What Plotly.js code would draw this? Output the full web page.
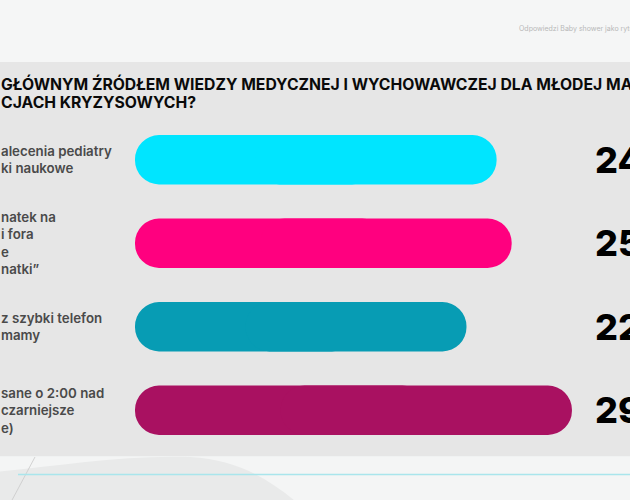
<!DOCTYPE html>
<html>
<head>
<meta charset="utf-8">
<script src="https://cdn.plot.ly/plotly-3.0.1.min.js"></script>
<style>html,body{margin:0;padding:0;background:#f5f6f6;}#chart{width:630px;height:500px;}</style>
</head>
<body>
<div id="chart"></div>
<script>
// ---- data ----
const categories = [
  "alecenia pediatry<br>ki naukowe",
  "natek na<br>i fora<br>e<br>natki\u201d",
  "z szybki telefon<br>mamy",
  "sane o 2:00 nad<br>czarniejsze<br>e)"
];
const values = [24, 25, 22, 29];
const valueLabels = ["24%", "25%", "22%", "29%"];
const barColors = ["#00e5ff", "#ff007f", "#079cb4", "#a91161"];
const titleLines = [
  "GŁÓWNYM ŹRÓDŁEM WIEDZY MEDYCZNEJ I WYCHOWAWCZEJ DLA MŁODEJ MATKI W",
  "CJACH KRYZYSOWYCH?"
];
const headerText = "Odpowiedzi Baby shower jako rytuał przejścia";

// ---- layout geometry ----
const W = 630, H = 500, L = 135, R = 43, T = 118, B = 48;
const pw = W - L - R, ph = H - T - B;
const px = p => (p - L) / pw;
const py = p => (H - B - p) / ph;

const FONT = "Inter, 'Noto Sans', sans-serif";

const traceRight = {
  type: "bar", orientation: "h",
  y: categories,
  x: values.map(v => v * 2 / 3),
  base: values.map(v => v / 3),
  marker: { color: barColors, cornerradius: "50%", line: { width: 0 } },
  hoverinfo: "skip", showlegend: false
};
const traceLeft = {
  type: "bar", orientation: "h",
  y: categories,
  x: values.map(v => -v * 2 / 3),
  base: values.map(v => v * 2 / 3),
  marker: { color: barColors, cornerradius: "50%", line: { width: 0 } },
  hoverinfo: "skip", showlegend: false
};

const annotations = [];
categories.forEach((c, i) => {
  annotations.push({
    xref: "paper", yref: "y", x: px(-1), y: c, xanchor: "left", yanchor: "middle",
    align: "left", text: c, showarrow: false,
    font: { family: FONT, size: 13.3, color: "#4a4a4a", weight: 600 }
  });
  annotations.push({
    xref: "paper", yref: "y", x: px(593), y: c, xanchor: "left", yanchor: "middle",
    text: valueLabels[i], showarrow: false,
    font: { family: FONT, size: 36, color: "#000000", weight: 800 }
  });
});
annotations.push({
  xref: "paper", yref: "paper", x: px(-1), y: py(84), xanchor: "left", yanchor: "middle",
  text: titleLines[0], showarrow: false,
  font: { family: FONT, size: 15.75, color: "#0a0a0a", weight: 700 }
});
annotations.push({
  xref: "paper", yref: "paper", x: px(-1), y: py(102), xanchor: "left", yanchor: "middle",
  text: titleLines[1], showarrow: false,
  font: { family: FONT, size: 15.75, color: "#0a0a0a", weight: 700 }
});
annotations.push({
  xref: "paper", yref: "paper", x: px(517), y: py(29), xanchor: "left", yanchor: "middle",
  text: headerText, showarrow: false,
  font: { family: FONT, size: 7, color: "#b8b8b8" }
});

const shapes = [
  { type: "rect", xref: "paper", yref: "paper", layer: "below",
    x0: px(-5), x1: px(W + 5), y0: py(62), y1: py(456.5),
    fillcolor: "#e6e6e6", line: { width: 0 } },
  { type: "rect", xref: "paper", yref: "paper", layer: "below",
    x0: px(-5), x1: px(W + 5), y0: py(456.5), y1: py(H + 5),
    fillcolor: "#f4f5f5", line: { width: 0 } },
  { type: "path", xref: "paper", yref: "paper", layer: "below",
    path: `M ${px(-5)} ${py(472)} C ${px(60)} ${py(466)} ${px(120)} ${py(455)} ${px(190)} ${py(457)} C ${px(240)} ${py(460)} ${px(270)} ${py(480)} ${px(300)} ${py(505)} L ${px(-5)} ${py(505)} Z`,
    fillcolor: "#e9eaea", line: { width: 0 } },
  { type: "line", xref: "paper", yref: "paper", layer: "below",
    x0: px(35), y0: py(457), x1: px(11), y1: py(502),
    line: { color: "#c9c9c9", width: 0.8 } },
  { type: "line", xref: "paper", yref: "paper", layer: "below",
    x0: px(18), y0: py(474.5), x1: px(W + 5), y1: py(474.5),
    line: { color: "#a9e5ec", width: 1.5 } }
];

const layout = {
  width: W, height: H,
  margin: { l: L, r: R, t: T, b: B, pad: 0 },
  paper_bgcolor: "#f5f6f6", plot_bgcolor: "rgba(0,0,0,0)",
  barmode: "overlay", bargap: 0.41,
  xaxis: { range: [0, 30], visible: false, fixedrange: true },
  yaxis: { type: "category", autorange: "reversed", visible: false, fixedrange: true },
  showlegend: false,
  annotations, shapes
};

Plotly.newPlot("chart", [traceLeft, traceRight], layout, { displayModeBar: false, staticPlot: true });
</script>
</body>
</html>
